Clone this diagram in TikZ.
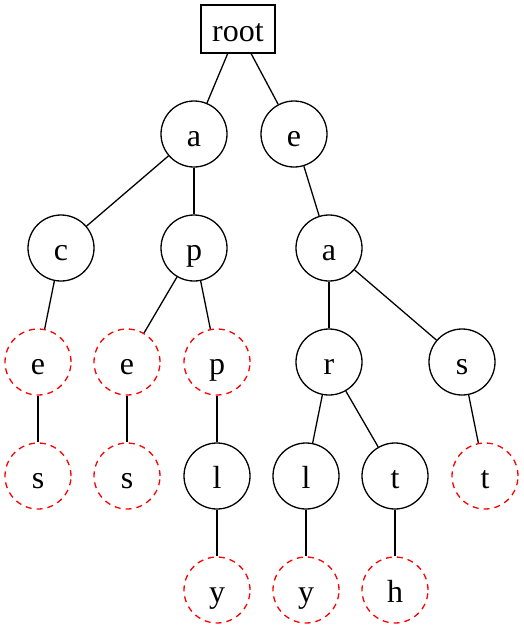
\documentclass[tikz,border=0pt]{standalone}
\usepackage{fontspec}
\setmainfont{Liberation Serif}

\begin{document}
\begin{tikzpicture}[x=1pt,y=-1pt,line width=1.3pt,
    every node/.style={font=\fontsize{32}{38}\selectfont,text height=24pt,text depth=0pt}]

    % `rootbox' is only used by the top node.
    % `letter' is a plain trie node.
    % `leaf' marks the end of a word.
    \tikzstyle{rootbox} = [draw,rectangle,minimum width=74pt,minimum height=48pt,inner sep=0pt]
    \tikzstyle{letter} = [draw,circle,minimum size=66pt,inner sep=0pt]
    \tikzstyle{leaf} = [letter,draw=red,dash pattern=on 6pt off 5pt]
    %
    \useasboundingbox (0,0) rectangle (523,629);

    \node[rootbox] (root) at (238,29) {root};

    % First row.
    \node[letter] (a1) at (194,134) {a};
    \node[letter] (e1) at (294,134) {e};

    % Second row.
    \node[letter] (c2) at (61,248) {c};
    \node[letter] (p2) at (194,248) {p};
    \node[letter] (a2) at (329,248) {a};

    % Third row.
    \node[leaf] (e3) at (38,362) {e};
    \node[leaf] (ee3) at (127,362) {e};
    \node[leaf] (p3) at (217,362) {p};
    \node[letter] (r3) at (329,362) {r};
    \node[letter] (s3) at (462,362) {s};

    % Fourth row.
    \node[leaf] (s4) at (38,476) {s};
    \node[leaf] (ss4) at (127,476) {s};
    \node[letter] (l4) at (217,476) {l};
    \node[letter] (ll4) at (306,476) {l};
    \node[letter] (t4) at (395,476) {t};
    \node[leaf] (tt4) at (485,476) {t};

    % Fifth row.
    \node[leaf] (y5) at (217,590) {y};
    \node[leaf] (yy5) at (306,590) {y};
    \node[leaf] (h5) at (395,590) {h};

    % Draw lines.
    \foreach \from/\to in {root/a1,root/e1,a1/c2,a1/p2,e1/a2,c2/e3,p2/ee3,p2/p3,
                           a2/r3,a2/s3,e3/s4,ee3/ss4,p3/l4,r3/ll4,r3/t4,s3/tt4,
                           l4/y5,ll4/yy5,t4/h5}
        \draw (\from) -- (\to);
    %
\end{tikzpicture}
\end{document}
